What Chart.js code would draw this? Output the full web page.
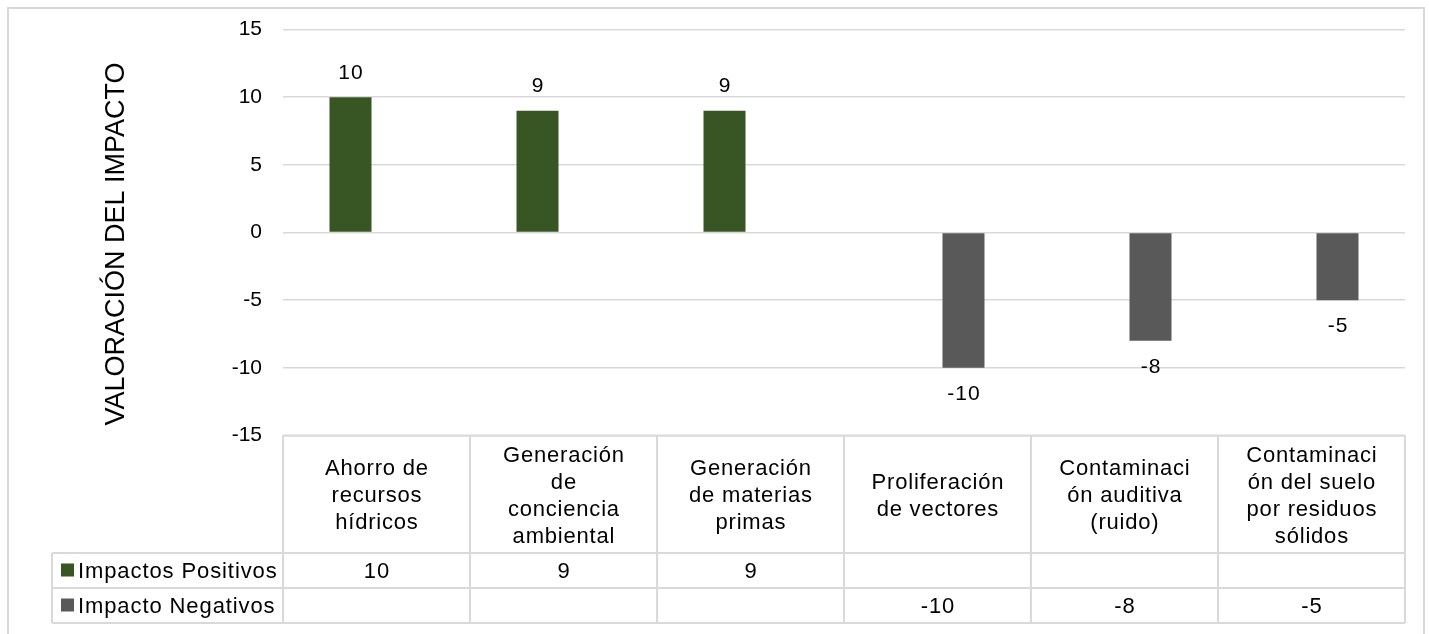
<!DOCTYPE html>
<html>
<head>
<meta charset="utf-8">
<script src="https://cdn.jsdelivr.net/npm/chart.js@4/dist/chart.umd.min.js"></script>
<style>
  html, body { margin: 0; padding: 0; background: #fff; }
  #wrap { width: 1429px; height: 634px; position: relative; }
</style>
</head>
<body>
<div id="wrap"><canvas id="c"></canvas></div>
<script>
// ---- data ----
const categories = [
  ["Ahorro de", "recursos", "hídricos"],
  ["Generación", "de", "conciencia", "ambiental"],
  ["Generación", "de materias", "primas"],
  ["Proliferación", "de vectores"],
  ["Contaminaci", "ón auditiva", "(ruido)"],
  ["Contaminaci", "ón del suelo", "por residuos", "sólidos"]
];
const positiveValues = [10, 9, 9, null, null, null];
const negativeValues = [null, null, null, -10, -8, -5];
const seriesNames = ["Impactos Positivos", "Impacto Negativos"];
const seriesColors = ["#375623", "#595959"];
const yTitle = "VALORACIÓN DEL IMPACTO";
const yMin = -15, yMax = 15, yStep = 5;

const FONT = "'Liberation Sans', Arial, sans-serif";
const GRID = "#d9d9d9";

const framePlugin = {
  id: 'frame',
  beforeDraw(chart) {
    const ctx = chart.ctx;
    ctx.save();
    ctx.fillStyle = '#fff';
    ctx.fillRect(0, 0, chart.width, chart.height);
    ctx.strokeStyle = GRID;
    ctx.lineWidth = 2;
    ctx.strokeRect(8, 8, 1416, 700);
    ctx.restore();
  },
  afterDraw(chart) {
    const ctx = chart.ctx;
    const ca = chart.chartArea;
    const xs = chart.scales.x;
    const n = categories.length;
    const half = (xs.getPixelForValue(1) - xs.getPixelForValue(0)) / 2;
    ctx.save();

    // y axis title
    ctx.save();
    ctx.translate(124, 244);
    ctx.rotate(-Math.PI / 2);
    ctx.font = "27px " + FONT;
    ctx.fillStyle = '#000';
    ctx.textAlign = 'center';
    ctx.textBaseline = 'alphabetic';
    ctx.fillText(yTitle, 0, 0);
    ctx.restore();

    // data labels
    ctx.font = "21px " + FONT;
    ctx.letterSpacing = '1px';
    ctx.fillStyle = '#000';
    ctx.textAlign = 'center';
    ctx.textBaseline = 'middle';
    chart.data.datasets.forEach((ds, di) => {
      const meta = chart.getDatasetMeta(di);
      meta.data.forEach((bar, i) => {
        const v = ds.data[i];
        if (v === null || v === undefined) return;
        const y = v >= 0 ? bar.y - 24 : bar.y + 26;
        ctx.fillText(String(v), bar.x + 0.5, y);
      });
    });

    // data table
    const headTop = ca.bottom;
    const headBottom = 553;
    const row1Bottom = 588;
    const row2Bottom = 623;
    const legLeft = 52;
    ctx.strokeStyle = GRID;
    ctx.lineWidth = 2;
    ctx.beginPath();
    ctx.moveTo(ca.left, headTop); ctx.lineTo(ca.right, headTop);
    [headBottom, row1Bottom, row2Bottom].forEach(y => { ctx.moveTo(legLeft, y); ctx.lineTo(ca.right, y); });
    for (let i = 0; i < n; i++) {
      const xl = xs.getPixelForValue(i) - half;
      ctx.moveTo(xl, headTop); ctx.lineTo(xl, row2Bottom);
    }
    const xr = xs.getPixelForValue(n - 1) + half;
    ctx.moveTo(xr, headTop); ctx.lineTo(xr, row2Bottom);
    ctx.moveTo(legLeft, headBottom); ctx.lineTo(legLeft, row2Bottom);
    ctx.stroke();

    // header text
    ctx.fillStyle = '#000';
    ctx.font = "22px " + FONT;
    ctx.letterSpacing = '0.8px';
    ctx.textAlign = 'center';
    ctx.textBaseline = 'alphabetic';
    const lh = 27;
    categories.forEach((lines, i) => {
      const cx = xs.getPixelForValue(i) + 0.4;
      lines.forEach((t, k) => {
        const by = 502 + (k - (lines.length - 1) / 2) * lh;
        ctx.fillText(t, cx, by);
      });
    });

    // rows
    ctx.letterSpacing = '0.9px';
    const rowBase = [578, 613];
    const rowTop = [headBottom, row1Bottom];
    chart.data.datasets.forEach((ds, di) => {
      ctx.fillStyle = ds.backgroundColor;
      ctx.fillRect(61, rowTop[di] + 10.5, 13, 13);
      ctx.fillStyle = '#000';
      ctx.textAlign = 'left';
      ctx.fillText(ds.label, 78, rowBase[di]);
      ctx.textAlign = 'center';
      ds.data.forEach((v, i) => {
        if (v === null || v === undefined) return;
        ctx.fillText(String(v), xs.getPixelForValue(i) + 0.5, rowBase[di]);
      });
    });
    ctx.restore();
  }
};

new Chart(document.getElementById('c'), {
  type: 'bar',
  data: {
    labels: categories,
    datasets: [
      { label: seriesNames[0], data: positiveValues, backgroundColor: seriesColors[0] },
      { label: seriesNames[1], data: negativeValues, backgroundColor: seriesColors[1] }
    ]
  },
  options: {
    responsive: true,
    maintainAspectRatio: false,
    animation: false,
    events: [],
    categoryPercentage: 0.556,
    barPercentage: 0.808,
    layout: { padding: { left: 0, top: 29.5, right: 24, bottom: 198.5 } },
    plugins: { legend: { display: false }, tooltip: { enabled: false } },
    scales: {
      x: { display: false },
      y: {
        min: yMin, max: yMax,
        ticks: { stepSize: yStep, font: { size: 21, family: FONT }, color: '#000', padding: 0 },
        grid: { color: GRID, lineWidth: 1.5, drawTicks: true, tickLength: 21, tickColor: 'rgba(0,0,0,0)' },
        border: { display: false },
        afterFit(scale) { scale.width = 283; }
      }
    }
  },
  plugins: [framePlugin]
});
</script>
</body>
</html>
